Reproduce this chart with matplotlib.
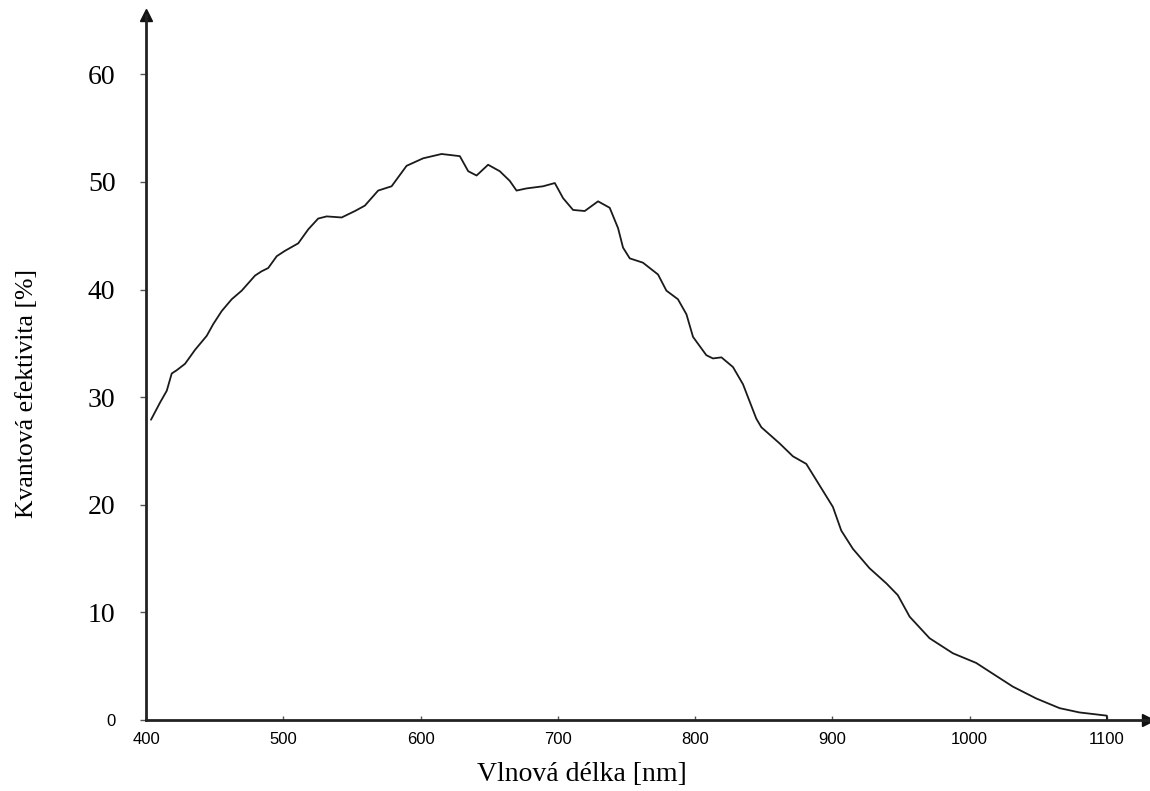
import matplotlib
matplotlib.use("Agg")
import matplotlib.pyplot as plt

# Quantum efficiency curve
wavelength = [403.6, 410.2, 415.1, 418.7, 422.3, 428.4, 435.7, 444.2, 449.0, 455.1,
              462.4, 469.7, 479.4, 484.2, 489.0, 495.2, 501.2, 510.9, 518.2, 525.4,
              531.6, 542.5, 552.2, 559.4, 569.1, 578.9, 589.8, 601.9, 615.3, 628.6,
              634.7, 640.8, 649.2, 657.7, 665.0, 669.9, 677.2, 689.3, 697.8, 703.8,
              711.1, 719.6, 729.3, 737.8, 743.9, 747.5, 752.4, 762.0, 773.0, 779.1,
              787.5, 793.7, 798.5, 808.2, 813.0, 819.2, 827.6, 834.9, 844.6, 848.3,
              861.6, 871.3, 881.0, 890.7, 900.4, 906.5, 915.0, 927.1, 939.3, 947.7,
              956.3, 970.8, 987.8, 1004.8, 1016.9, 1031.5, 1048.5, 1065.5, 1080.0, 1100.0,
              1100.0]
efficiency = [27.9, 29.5, 30.6, 32.2, 32.5, 33.1, 34.4, 35.7, 36.8, 38.0,
              39.1, 39.9, 41.3, 41.7, 42.0, 43.1, 43.6, 44.3, 45.6, 46.6,
              46.8, 46.7, 47.3, 47.8, 49.2, 49.6, 51.5, 52.2, 52.6, 52.4,
              51.0, 50.6, 51.6, 51.0, 50.1, 49.2, 49.4, 49.6, 49.9, 48.5,
              47.4, 47.3, 48.2, 47.6, 45.7, 43.9, 42.9, 42.5, 41.4, 39.9,
              39.1, 37.7, 35.6, 33.9, 33.6, 33.7, 32.8, 31.2, 28.0, 27.2,
              25.7, 24.5, 23.8, 21.8, 19.8, 17.6, 15.9, 14.1, 12.7, 11.6,
              9.6, 7.6, 6.2, 5.3, 4.3, 3.1, 2.0, 1.1, 0.7, 0.4,
              0.0]

x_ticks = [400, 500, 600, 700, 800, 900, 1000, 1100]
y_ticks = [0, 10, 20, 30, 40, 50, 60]

fig = plt.figure(figsize=(11.5, 7.91), dpi=100)
ax = fig.add_axes([0.127, 0.0898, 0.8713, 0.891])

ax.plot(wavelength, efficiency, color="#1a1a1a", lw=1.3,
        solid_joinstyle="round", solid_capstyle="round")

ax.set_xlim(400, 1130)
ax.set_ylim(0, 65.5)

for s in ["top", "right"]:
    ax.spines[s].set_visible(False)
for s in ["left", "bottom"]:
    ax.spines[s].set_linewidth(2)
    ax.spines[s].set_color("#222222")

# arrow heads on the axes
ax.plot(1, 0, ">", color="#111111", ms=9, transform=ax.transAxes, clip_on=False)
ax.plot(0, 1, "^", color="#111111", ms=9, transform=ax.transAxes, clip_on=False)

ax.set_xticks(x_ticks)
ax.set_yticks(y_ticks)
ax.tick_params(axis="x", direction="in", length=3, width=1, color="#555555",
               labelsize=12, pad=9)
ax.tick_params(axis="y", direction="out", length=4, width=1, color="#555555",
               labelsize=20, pad=18)

for lbl in ax.get_xticklabels():
    lbl.set_fontfamily("Liberation Sans")
for lbl in ax.get_yticklabels():
    lbl.set_fontfamily("Liberation Serif")
zero = ax.get_yticklabels()[0]
zero.set_fontfamily("Liberation Sans")
zero.set_fontsize(12)

fig.text(0.506, 0.021, "Vlnová délka [nm]", family="Liberation Serif",
         fontsize=20, ha="center", va="center")
fig.text(0.0235, 0.503, "Kvantová efektivita [%]", family="Liberation Serif",
         fontsize=18.5, ha="center", va="center", rotation=90)

fig.savefig("out.png", dpi=100)
